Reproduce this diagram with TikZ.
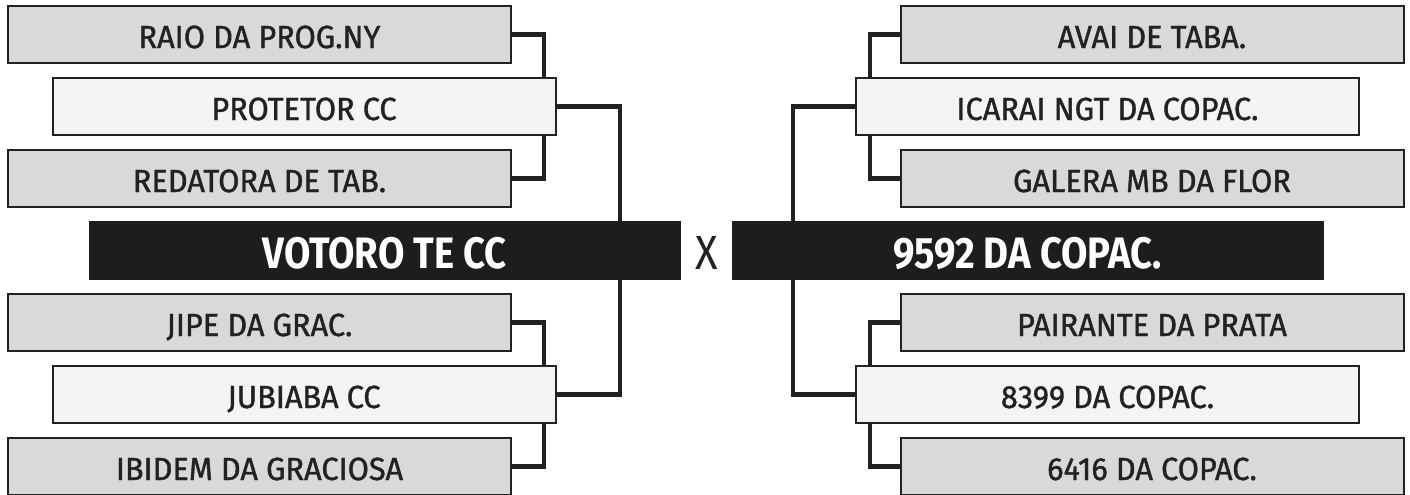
\documentclass[tikz,border=0pt]{standalone}
\usepackage{fontspec}
\setmainfont[FakeStretch=0.87]{Fira Sans}
\newfontfamily\clubfont[FakeStretch=0.96, FakeBold=1.2]{Fira Sans}
\definecolor{boxgray}{HTML}{D9D9D9}
\definecolor{boxlight}{HTML}{F4F4F4}
\definecolor{boxblack}{HTML}{1D1D1B}
\definecolor{linedark}{HTML}{222222}

\begin{document}
\begin{tikzpicture}[
    x=0.5pt, y=-0.5pt,
    every node/.style={inner sep=0pt, outer sep=0pt, text=linedark,
      font=\clubfont\fontsize{16}{18}\selectfont, text height=13.5pt, text depth=0pt},
    club/.style={draw=linedark, line width=1pt, fill=boxgray,
      minimum width=251.5pt, minimum height=28.5pt},
    seed/.style={club, fill=boxlight},
    final/.style={fill=boxblack, text=white, minimum width=296pt, minimum height=29.5pt,
      font=\rmfamily\fontsize{22}{24}\selectfont\bfseries, text height=17.5pt},
    bracket/.style={draw=linedark, line width=2.1pt},
]
\useasboundingbox (0,0) rectangle (1410,494);

\coordinate (brL) at (544,0);
\coordinate (bigL) at (620,0);
\coordinate (brR) at (870,0);
\coordinate (bigR) at (793,0);

\node[club] (raio)     at (259.5,34.5)  {RAIO DA PROG.NY};
\node[seed] (protetor) at (304,106.5)   {PROTETOR CC};
\node[club] (redatora) at (259.5,178.5) {REDATORA DE TAB.};
\node[final] (votoro)  at (384.5,250.5) {VOTORO TE CC};
\node[club] (jipe)     at (259.5,322.5) {JIPE DA GRAC.};
\node[seed] (jubiaba)  at (304,394.5)   {JUBIABA CC};
\node[club] (ibidem)   at (259.5,466.5) {IBIDEM DA GRACIOSA};

\node[font=\rmfamily\fontsize{24}{26}\selectfont, text height=18.5pt] (versus) at (706.5,250.5) {X};

\node[club] (avai)     at (1152,34.5)   {AVAI DE TABA.};
\node[seed] (icarai)   at (1107.5,106.5) {ICARAI NGT DA COPAC.};
\node[club] (galera)   at (1152,178.5)  {GALERA MB DA FLOR};
\node[final] (copac)   at (1027.5,250.5) {9592 DA COPAC.};
\node[club] (pairante) at (1152,322.5)  {PAIRANTE DA PRATA};
\node[seed] (cop8399)  at (1107.5,394.5) {8399 DA COPAC.};
\node[club] (cop6416)  at (1152,466.5)  {6416 DA COPAC.};

\draw[bracket] (raio.east) -| (protetor.north -| brL);
\draw[bracket] (redatora.east) -| (protetor.south -| brL);
\draw[bracket] (jipe.east) -| (jubiaba.north -| brL);
\draw[bracket] (ibidem.east) -| (jubiaba.south -| brL);
\draw[bracket] (protetor.east) -| (votoro.north -| bigL);
\draw[bracket] (jubiaba.east) -| (votoro.south -| bigL);

\draw[bracket] (avai.west) -| (icarai.north -| brR);
\draw[bracket] (galera.west) -| (icarai.south -| brR);
\draw[bracket] (pairante.west) -| (cop8399.north -| brR);
\draw[bracket] (cop6416.west) -| (cop8399.south -| brR);
\draw[bracket] (icarai.west) -| (copac.north -| bigR);
\draw[bracket] (cop8399.west) -| (copac.south -| bigR);
\end{tikzpicture}
\end{document}
